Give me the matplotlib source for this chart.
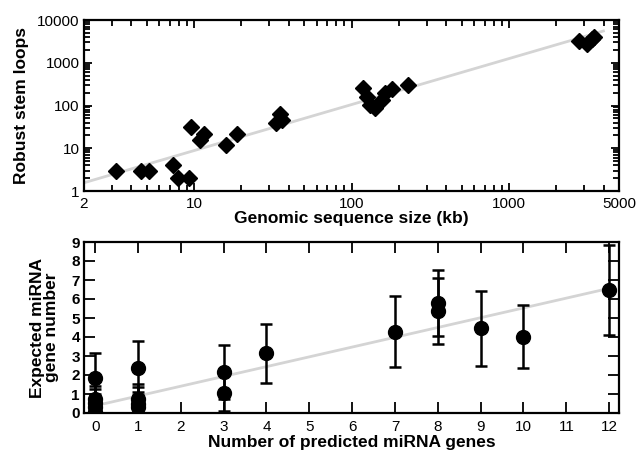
import matplotlib
matplotlib.use("Agg")
import matplotlib.pyplot as plt
from matplotlib.ticker import FixedLocator, NullFormatter, LogLocator

plt.rcParams["font.family"] = ["Liberation Sans", "DejaVu Sans"]

# ---- panel superiore: dimensione sequenza vs stem loops ----
size_kb = [3.2, 4.6, 5.2, 7.4, 7.9, 9.3, 9.6, 10.9, 11.6, 16, 18.8,
           33, 35, 36, 118, 125, 131, 141, 156, 163, 180, 230,
           2800, 3150, 3350, 3450]
loops = [3, 3, 3, 4, 2, 2, 31, 16, 21, 12, 22,
         38, 62, 46, 250, 160, 103, 86, 134, 193, 240, 300,
         3300, 2800, 3500, 3900]
fit_top_x = [2, 3980]
fit_top_y = [1.56, 5530]

# ---- panel inferiore: geni predetti vs attesi ----
n_pred = [0, 0, 0, 0, 0, 1, 1, 1, 1, 3, 3, 4, 7, 8, 8, 9, 10, 12]
expected = [1.83, 0.75, 0.55, 0.3, 0.05, 2.35, 0.75, 0.5, 0.3,
            2.14, 1.04, 3.14, 4.28, 5.8, 5.38, 4.45, 4.02, 6.47]
err = [1.31, 0.67, 0.7, 0.7, 0.5, 1.42, 0.78, 0.85, 0.8,
       1.42, 0.94, 1.55, 1.88, 1.75, 1.75, 1.95, 1.65, 2.35]
fit_bot_x = [0, 12]
fit_bot_y = [0.38, 6.56]

fig = plt.figure(figsize=(6.38, 4.51), dpi=100)
axT = fig.add_axes([84 / 638, 1 - 191 / 451, 535 / 638, 171 / 451])
axB = fig.add_axes([84 / 638, 1 - 413 / 451, 535 / 638, 171 / 451])

for ax in (axT, axB):
    for s in ax.spines.values():
        s.set_linewidth(1.6)

# top
axT.plot(fit_top_x, fit_top_y, color="#d4d4d4", lw=2, zorder=1)
axT.plot(size_kb, loops, "D", color="black", ms=8, zorder=2)
axT.set_xscale("log"); axT.set_yscale("log")
axT.set_xlim(2, 5000); axT.set_ylim(1, 10000)
axT.xaxis.set_major_locator(FixedLocator([2, 10, 100, 1000, 5000]))
axT.set_xticklabels(["2", "10", "100", "1000", "5000"])
minors = [m * d for d in (1, 10, 100, 1000) for m in range(2, 10) if 2 < m * d < 5000
          and m * d not in (10, 100, 1000)]
axT.xaxis.set_minor_locator(FixedLocator(minors))
axT.xaxis.set_minor_formatter(NullFormatter())
axT.set_yticks([1, 10, 100, 1000, 10000])
axT.set_yticklabels(["1", "10", "100", "1000", "10000"])
axT.yaxis.set_minor_locator(LogLocator(base=10, subs=range(2, 10), numticks=20))
axT.yaxis.set_minor_formatter(NullFormatter())
axT.tick_params(which="both", direction="in", top=True, right=True, width=1.3,
                labelsize=11, pad=4)
axT.tick_params(axis="y", which="both", pad=3)
axT.tick_params(which="major", length=6)
axT.tick_params(which="minor", length=4)
axT.set_xlabel("Genomic sequence size (kb)", fontsize=12.5, fontweight="bold", labelpad=0)
axT.set_ylabel("Robust stem loops", fontsize=12.5, fontweight="bold", labelpad=6)

# bottom
axB.plot(fit_bot_x, fit_bot_y, color="#d4d4d4", lw=2, zorder=1)
axB.errorbar(n_pred, expected, yerr=err, fmt="o", color="black", ms=10,
             elinewidth=1.8, capsize=4, capthick=1.8, zorder=2)
axB.set_xlim(-0.26, 12.23); axB.set_ylim(0, 9)
axB.set_xticks(range(0, 13))
axB.set_yticks(range(0, 10))
for lb in axB.get_yticklabels():
    lb.set_fontweight("bold")
axB.tick_params(direction="in", top=True, right=True, width=1.3, length=8,
                labelsize=11, pad=5)
axB.tick_params(axis="y", pad=3)
axB.set_xlabel("Number of predicted miRNA genes", fontsize=12.5, fontweight="bold", labelpad=1)
axB.set_ylabel("Expected miRNA\ngene number", fontsize=12.5, fontweight="bold",
               labelpad=9, linespacing=0.9)

fig.savefig("out.png", dpi=100)
